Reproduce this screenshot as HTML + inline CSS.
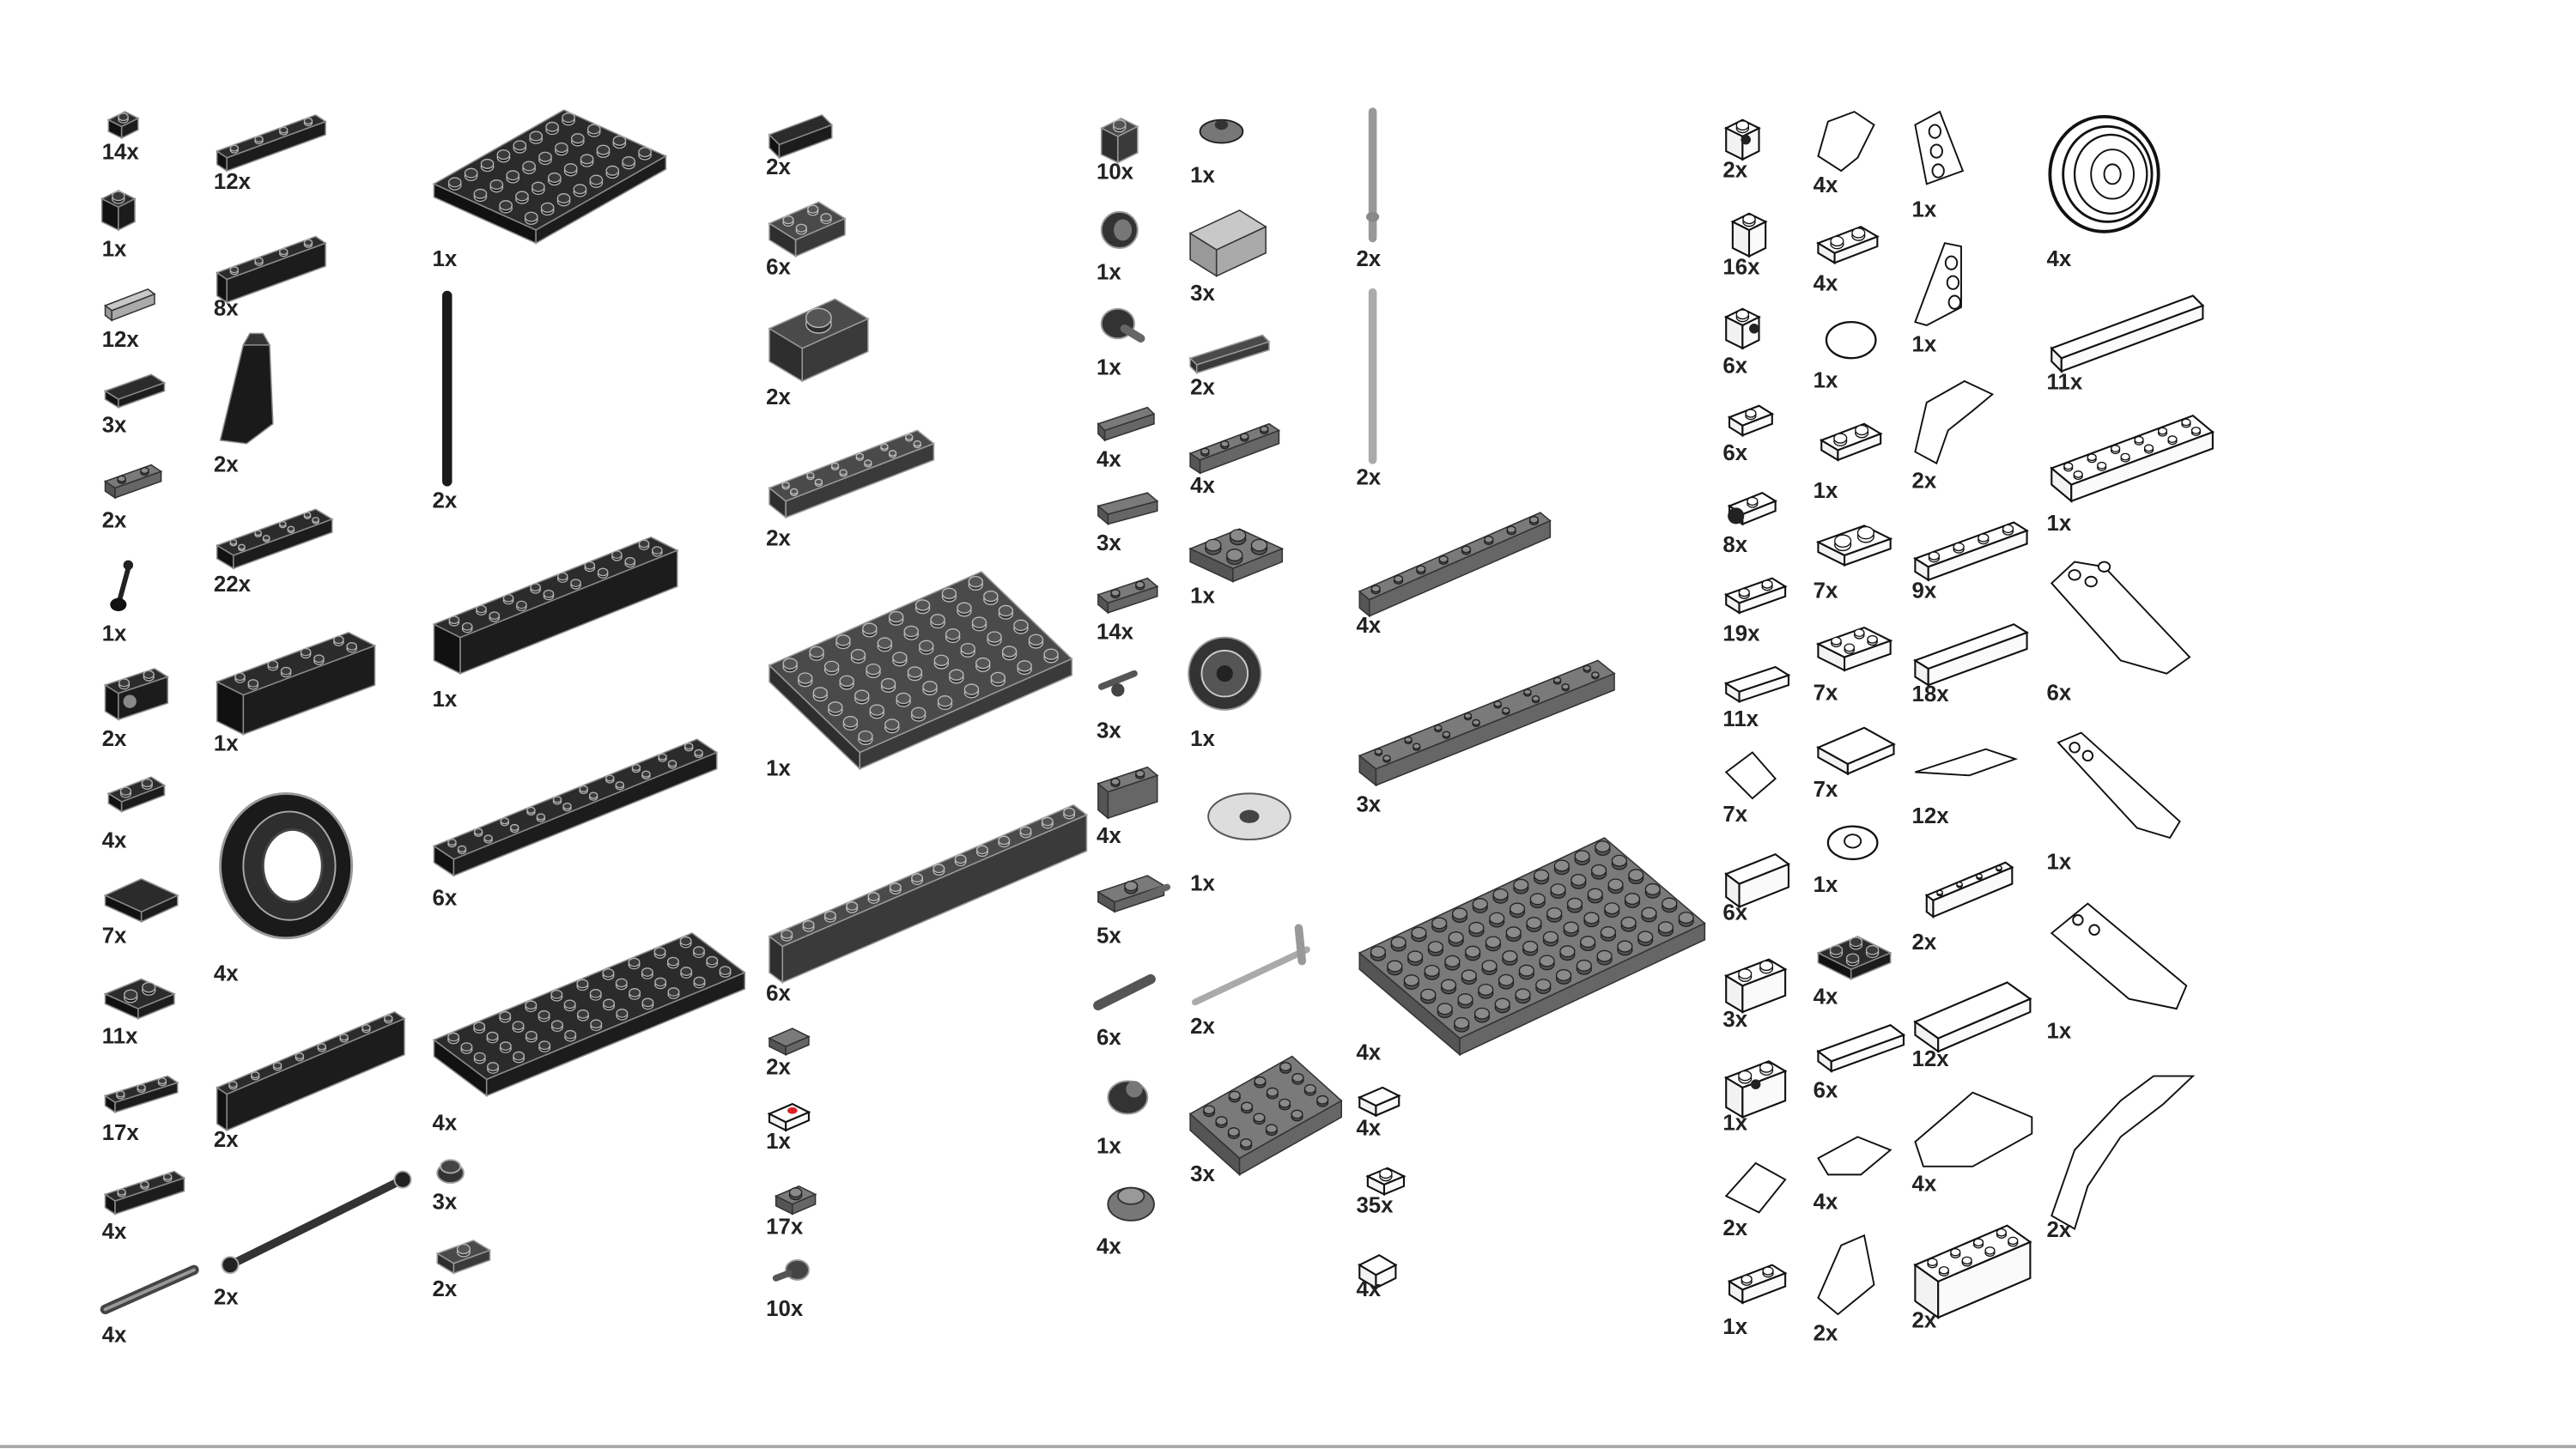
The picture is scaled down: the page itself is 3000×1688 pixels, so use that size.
<!DOCTYPE html>
<html><head><meta charset="utf-8">
<style>
html,body{margin:0;padding:0;background:#fff;}
svg{display:block;}
text{font-family:"Liberation Sans",sans-serif;font-weight:bold;font-size:13.5px;fill:#222;}
</style></head>
<body>
<svg id="s" width="3000" height="1688" viewBox="0 0 1567 882" preserveAspectRatio="none" xmlns="http://www.w3.org/2000/svg">
<rect x="0" y="0" width="1567" height="882" fill="#fff"/>
<line x1="0" y1="880.5" x2="1567" y2="880.5" stroke="#aaa" stroke-width="2"/>
<g id="shapes"></g>
<g id="labels">
<text x="62" y="97">14x</text><text x="62" y="156">1x</text><text x="62" y="211">12x</text><text x="62" y="263">3x</text><text x="62" y="321">2x</text><text x="62" y="390">1x</text><text x="62" y="454">2x</text><text x="62" y="516">4x</text><text x="62" y="574">7x</text><text x="62" y="635">11x</text><text x="62" y="694">17x</text><text x="62" y="754">4x</text><text x="62" y="817">4x</text>
<text x="130" y="115">12x</text><text x="130" y="192">8x</text><text x="130" y="287">2x</text><text x="130" y="360">22x</text><text x="130" y="457">1x</text><text x="130" y="597">4x</text><text x="130" y="698">2x</text><text x="130" y="794">2x</text>
<text x="263" y="162">1x</text><text x="263" y="309">2x</text><text x="263" y="430">1x</text><text x="263" y="551">6x</text><text x="263" y="688">4x</text><text x="263" y="736">3x</text><text x="263" y="789">2x</text>
<text x="466" y="106">2x</text><text x="466" y="167">6x</text><text x="466" y="246">2x</text><text x="466" y="332">2x</text><text x="466" y="472">1x</text><text x="466" y="609">6x</text><text x="466" y="654">2x</text><text x="466" y="699">1x</text><text x="466" y="751">17x</text><text x="466" y="801">10x</text>
<text x="667" y="109">10x</text><text x="667" y="170">1x</text><text x="667" y="228">1x</text><text x="667" y="284">4x</text><text x="667" y="335">3x</text><text x="667" y="389">14x</text><text x="667" y="449">3x</text><text x="667" y="513">4x</text><text x="667" y="574">5x</text><text x="667" y="636">6x</text><text x="667" y="702">1x</text><text x="667" y="763">4x</text>
<text x="724" y="111">1x</text><text x="724" y="183">3x</text><text x="724" y="240">2x</text><text x="724" y="300">4x</text><text x="724" y="367">1x</text><text x="724" y="454">1x</text><text x="724" y="542">1x</text><text x="724" y="629">2x</text><text x="724" y="719">3x</text>
<text x="825" y="162">2x</text><text x="825" y="295">2x</text><text x="825" y="385">4x</text><text x="825" y="494">3x</text><text x="825" y="645">4x</text><text x="825" y="691">4x</text><text x="825" y="738">35x</text><text x="825" y="789">4x</text>
<text x="1048" y="108">2x</text><text x="1048" y="167">16x</text><text x="1048" y="227">6x</text><text x="1048" y="280">6x</text><text x="1048" y="336">8x</text><text x="1048" y="390">19x</text><text x="1048" y="442">11x</text><text x="1048" y="500">7x</text><text x="1048" y="560">6x</text><text x="1048" y="625">3x</text><text x="1048" y="688">1x</text><text x="1048" y="752">2x</text><text x="1048" y="812">1x</text>
<text x="1103" y="117">4x</text><text x="1103" y="177">4x</text><text x="1103" y="236">1x</text><text x="1103" y="303">1x</text><text x="1103" y="364">7x</text><text x="1103" y="426">7x</text><text x="1103" y="485">7x</text><text x="1103" y="543">1x</text><text x="1103" y="611">4x</text><text x="1103" y="668">6x</text><text x="1103" y="736">4x</text><text x="1103" y="816">2x</text>
<text x="1163" y="132">1x</text><text x="1163" y="214">1x</text><text x="1163" y="297">2x</text><text x="1163" y="364">9x</text><text x="1163" y="427">18x</text><text x="1163" y="501">12x</text><text x="1163" y="578">2x</text><text x="1163" y="649">12x</text><text x="1163" y="725">4x</text><text x="1163" y="808">2x</text>
<text x="1245" y="162">4x</text><text x="1245" y="237">11x</text><text x="1245" y="323">1x</text><text x="1245" y="426">6x</text><text x="1245" y="529">1x</text><text x="1245" y="632">1x</text><text x="1245" y="753">2x</text>
</g>
</svg>
<script>
(function(){
var g=document.getElementById('shapes'),NS='http://www.w3.org/2000/svg';
function el(t,a){var e=document.createElementNS(NS,t);for(var k in a)e.setAttribute(k,a[k]);g.appendChild(e);return e;}
var T={
 k:{top:'#2b2b2b',l:'#111',r:'#1c1c1c',st:'#8a8a8a',sf:'#3a3a3a',ss:'#b0b0b0'},
 d:{top:'#4a4a4a',l:'#2e2e2e',r:'#3a3a3a',st:'#999',sf:'#555',ss:'#bbb'},
 g:{top:'#7a7a7a',l:'#555',r:'#666',st:'#333',sf:'#8a8a8a',ss:'#222'},
 l:{top:'#c8c8c8',l:'#999',r:'#aaa',st:'#333',sf:'#ddd',ss:'#333'},
 w:{top:'#fff',l:'#f2f2f2',r:'#fafafa',st:'#111',sf:'#fff',ss:'#111'}
};
function P(a){return a.map(function(p){return p[0].toFixed(1)+','+p[1].toFixed(1)}).join(' ');}
function B(x,y,ux,uy,vx,vy,h,nu,nv,c){
 var t=T[c||'k'],sw=c=='w'?1.1:0.8;
 var p0=[x,y],p1=[x+ux,y+uy],p2=[x+ux+vx,y+uy+vy],p3=[x+vx,y+vy];
 el('polygon',{points:P([p0,p3,[p3[0],p3[1]+h],[x,y+h]]),fill:t.l,stroke:t.st,'stroke-width':sw});
 el('polygon',{points:P([p3,p2,[p2[0],p2[1]+h],[p3[0],p3[1]+h]]),fill:t.r,stroke:t.st,'stroke-width':sw});
 el('polygon',{points:P([p0,p1,p2,p3]),fill:t.top,stroke:t.st,'stroke-width':sw});
 if(nu&&nv){
  var lu=Math.hypot(ux,uy)/nu,lv=Math.hypot(vx,vy)/nv,s=Math.min(lu,lv)*0.33;
  for(var i=0;i<nu;i++)for(var j=0;j<nv;j++){
   var cx=x+ux*(i+.5)/nu+vx*(j+.5)/nv,cy=y+uy*(i+.5)/nu+vy*(j+.5)/nv;
   el('ellipse',{cx:cx,cy:cy,rx:s,ry:s*0.75,fill:t.l,stroke:t.ss,'stroke-width':0.7});
   el('ellipse',{cx:cx,cy:cy-s*0.45,rx:s,ry:s*0.75,fill:t.sf,stroke:t.ss,'stroke-width':0.7});
  }
 }
}
function L(x1,y1,x2,y2,w,col){el('line',{x1:x1,y1:y1,x2:x2,y2:y2,stroke:col,'stroke-width':w,'stroke-linecap':'round'});}
function E(cx,cy,rx,ry,f,s,sw){el('ellipse',{cx:cx,cy:cy,rx:rx,ry:ry,fill:f,stroke:s||'none','stroke-width':sw||1});}
function G(pts,f,s,sw){el('polygon',{points:pts,fill:f,stroke:s||'#111','stroke-width':sw||1});}

// Column 1
B(66,73,10,-5,8,4,7,1,1,'k');
B(62,121,10,-5,10,5,14,1,1,'k');
B(64,186,26,-10,4,3,6,0,0,'l');
B(64,238,28,-10,8,5,5,0,0,'k');
B(64,293,28,-10,6,4,6,2,1,'g');
L(72,368,78,346,3,'#222');E(72,368,5,4,'#111');E(78,344,3,3,'#222');
B(64,417,30,-10,8,5,16,2,1,'k');E(79,427,4,4,'#888');
B(66,483,26,-10,8,5,6,2,1,'k');
B(64,545,22,-10,22,10,6,0,0,'k');
B(64,605,22,-9,20,9,6,2,1,'k');
B(64,667,38,-12,6,4,6,3,1,'k');
B(64,727,42,-14,6,4,8,3,1,'k');
L(64,797,118,773,6,'#444');L(64,797,118,773,2,'#999');
// Column 2
B(132,92,60,-22,6,4,8,4,1,'k');
B(132,166,60,-22,6,4,14,4,1,'k');
G('134,268 148,210 164,210 166,258 150,270','#1a1a1a','#888',0.8);G('148,210 164,210 160,203 152,203','#333','#888',0.8);
B(132,332,60,-22,10,6,8,4,2,'k');
B(132,415,80,-30,16,8,24,4,2,'k');
E(174,527,40,44,'#1a1a1a','#999',1.5);E(176,527,28,33,'#2e2e2e','#aaa',1);E(178,527,18,22,'#fff','#444',1.5);
B(132,662,108,-46,6,4,22,8,1,'k');
L(140,770,245,718,5,'#333');E(140,770,5,5,'#222','#aaa');E(245,718,5,5,'#222','#aaa');
// Column 3
B(264,112,79,-45,62,28,8,8,4,'k');
L(272,180,272,293,6,'#1a1a1a');
B(264,380,132,-53,16,8,22,8,2,'k');
B(264,515,160,-65,12,8,10,10,2,'k');
B(264,633,157,-65,32,24,10,10,4,'k');
E(274,714,8,6,'#333','#999');E(274,710,6,4,'#444','#aaa');
B(266,763,22,-8,10,6,6,1,1,'d');
// Column 4
B(468,82,32,-12,6,6,8,0,0,'k');
B(468,136,30,-13,16,10,10,2,2,'d');
B(468,200,40,-18,20,12,20,1,1,'d');
B(468,297,90,-35,10,8,10,6,2,'d');
B(468,405,129,-57,55,53,10,8,6,'d');
B(468,570,185,-80,8,6,22,14,1,'d');
B(468,632,14,-6,10,5,5,0,0,'g');
B(468,678,14,-6,10,5,5,0,0,'w');E(482,676,3,2,'#d22');
B(472,728,14,-6,10,5,6,1,1,'g');
E(485,773,7,6,'#444','#999');L(472,778,480,775,4,'#555');
// Column 5
B(670,78,12,-6,10,5,16,1,1,'d');
E(681,140,11,11,'#333','#999');E(683,140,6,7,'#777','#333');
E(680,197,10,9,'#333','#999');L(684,200,694,206,5,'#666');
B(668,258,30,-10,4,4,6,0,0,'g');
B(668,308,30,-8,6,5,6,0,0,'g');
B(668,362,30,-10,6,5,6,2,1,'g');
L(670,418,690,410,4,'#555');E(680,420,4,4,'#444');
B(668,477,30,-10,6,5,16,2,1,'g');
B(668,543,30,-10,10,6,6,1,1,'g');L(695,546,710,540,4,'#666');
L(668,612,700,596,6,'#555');
E(686,668,12,10,'#333','#999');E(690,663,5,5,'#777');
E(688,733,14,10,'#777','#333');E(688,728,8,5,'#999','#333');
// Column 6
E(743,80,13,7,'#777','#222');E(743,76,4,3,'#333');
B(724,142,30,-14,16,10,16,0,0,'l');
B(724,218,44,-14,4,4,5,0,0,'d');
B(724,276,48,-18,6,4,8,4,1,'g');
B(724,334,30,-12,26,12,8,2,2,'g');
E(745,410,22,22,'#333','#999');E(745,410,14,14,'#555','#ccc');E(745,410,5,5,'#222');
E(760,497,25,14,'#ddd','#555');E(760,497,6,4,'#444');
L(727,610,795,578,4,'#aaa');L(790,565,792,585,5,'#999');
B(724,678,62,-35,30,27,10,4,4,'g');
// Column 7
L(835,68,835,145,5,'#999');E(835,132,4,3,'#888');
L(835,178,835,280,5,'#aaa');
B(827,360,110,-48,6,5,10,8,1,'g');
B(827,460,145,-58,10,8,10,8,2,'g');
B(827,580,149,-70,61,52,10,12,6,'g');
B(827,668,14,-6,10,5,6,0,0,'w');
B(832,716,12,-5,10,5,6,1,1,'w');
B(827,770,12,-6,10,6,8,0,0,'w');
// Column 8
B(1050,78,10,-5,10,5,14,1,1,'w');E(1062,85,3,3,'#222');
B(1054,135,10,-5,10,5,16,1,1,'w');
B(1050,193,10,-5,10,5,14,1,1,'w');E(1067,200,3,3,'#222');
B(1052,254,18,-7,8,5,6,1,1,'w');
B(1052,308,20,-8,8,5,6,1,1,'w');E(1056,314,5,5,'#222');
B(1050,362,28,-10,8,5,6,2,1,'w');
B(1050,416,30,-10,8,5,6,0,0,'w');
G('1050,470 1066,458 1080,474 1066,486','#fff');
B(1050,532,30,-12,8,6,14,0,0,'w');
B(1050,594,26,-10,10,6,16,2,1,'w');
B(1050,656,26,-10,10,6,18,2,1,'w');E(1068,660,3,3,'#222');
G('1050,728 1068,708 1086,718 1070,738','#fff');
B(1052,780,26,-10,8,5,8,2,1,'w');
// Column 9
G('1106,95 1112,74 1128,68 1140,76 1130,96 1120,104','#fff');
B(1106,148,26,-10,10,6,6,2,1,'w');
E(1126,207,15,11,'#fff','#111',1.2);
B(1108,268,26,-10,10,6,6,2,1,'w');
B(1106,330,28,-10,16,8,6,2,1,'w');
B(1106,392,28,-10,16,8,8,2,2,'w');
B(1106,455,28,-12,18,10,6,0,0,'w');
E(1127,513,15,10,'#fff','#111',1.2);E(1127,512,5,4,'#fff','#111');
B(1106,580,24,-10,20,10,6,2,2,'k');
B(1106,640,44,-16,8,6,6,0,0,'w');
G('1106,705 1130,692 1150,700 1132,715 1112,715','#fff');
G('1106,790 1120,758 1134,752 1140,782 1118,800','#fff');
// Column 10
G('1165,76 1180,68 1194,104 1172,112','#fff');E(1177,80,3.5,4,'#fff','#111');E(1178,92,3.5,4,'#fff','#111');E(1179,104,3.5,4,'#fff','#111');
G('1165,196 1183,148 1193,150 1193,187 1172,198','#fff');E(1187,160,3.5,4,'#fff','#111');E(1188,172,3.5,4,'#fff','#111');E(1189,184,3.5,4,'#fff','#111');
G('1165,275 1172,245 1195,232 1212,240 1200,250 1185,262 1178,282','#fff');
B(1165,340,60,-22,8,5,8,4,1,'w');
B(1165,402,60,-22,8,5,10,0,0,'w');
G('1165,470 1208,456 1226,462 1198,472','#fff');
B(1172,545,48,-20,4,3,10,4,1,'w');
B(1165,622,56,-24,14,10,8,0,0,'w');
G('1165,695 1200,665 1236,680 1236,690 1200,710 1170,710','#fff');
B(1165,770,56,-24,14,10,22,4,2,'w');
// Column 11
E(1280,106,33,35,'#fff','#111',2);E(1282,106,27,29,'#fff','#111',1.5);E(1284,106,22,24,'#fff','#111',1.2);E(1285,106,13,15,'#fff','#111',1);E(1285,106,5,6,'#fff','#111');
B(1248,212,86,-32,6,6,8,0,0,'w');
B(1248,285,86,-32,12,10,10,6,2,'w');
G('1248,355 1262,342 1280,345 1332,400 1318,410 1290,402','#fff');E(1262,350,3.5,3,'#fff','#111');E(1272,354,3.5,3,'#fff','#111');E(1280,345,3.5,3,'#fff','#111');
G('1252,452 1266,446 1326,500 1320,510 1300,504','#fff');E(1262,455,3,3,'#fff','#111');E(1270,460,3,3,'#fff','#111');
G('1248,568 1270,550 1330,600 1324,614 1295,608','#fff');E(1264,560,3,3,'#fff','#111');E(1274,566,3,3,'#fff','#111');
G('1248,740 1262,700 1290,670 1310,655 1334,655 1316,672 1290,692 1270,722 1262,748','#fff');
})();
</script>
</body></html>
